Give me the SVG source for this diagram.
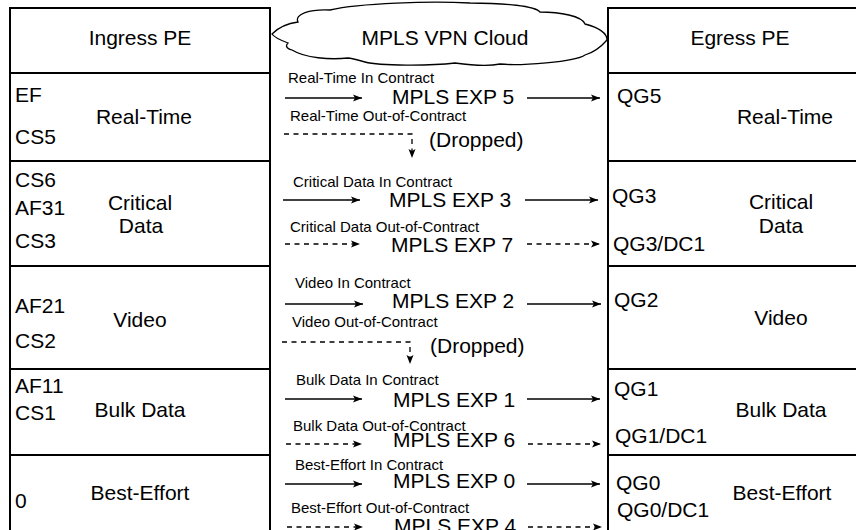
<svg xmlns="http://www.w3.org/2000/svg" width="856" height="530" viewBox="0 0 856 530">
<defs>
<style>
text{font-family:"Liberation Sans",Arial,Helvetica,sans-serif;fill:#000}
.big{font-size:21px}
.sm{font-size:15px}
.mid{text-anchor:middle}
.box{fill:#fff;stroke:#000;stroke-width:2}
.div{stroke:#000;stroke-width:2}
.solid{stroke:#000;stroke-width:1.3;fill:none;marker-end:url(#ah)}
.dash{stroke:#000;stroke-width:1.3;fill:none;stroke-dasharray:5 4.5;marker-end:url(#ah)}
.cloud{fill:#fff;stroke:#000;stroke-width:1.3}
</style>
<marker id="ah" markerUnits="userSpaceOnUse" markerWidth="10" markerHeight="8" refX="9" refY="4" orient="auto">
<path d="M0,0.5 L9,4 L0,7.5 L2,4 Z" fill="#000"/>
</marker>
</defs>
<rect width="856" height="530" fill="#fff"/>

<g id="ingress">
<rect class="box" x="10" y="8" width="260" height="540"/>
<line class="div" x1="10" y1="73" x2="270" y2="73"/>
<line class="div" x1="10" y1="161" x2="270" y2="161"/>
<line class="div" x1="10" y1="266" x2="270" y2="266"/>
<line class="div" x1="10" y1="369" x2="270" y2="369"/>
<line class="div" x1="10" y1="455" x2="270" y2="455"/>
<text class="big mid" x="140" y="45">Ingress PE</text>
<text class="big" x="15" y="102">EF</text>
<text class="big" x="15" y="144">CS5</text>
<text class="big mid" x="144" y="124">Real-Time</text>
<text class="big" x="15" y="187">CS6</text>
<text class="big" x="15" y="215">AF31</text>
<text class="big" x="15" y="248">CS3</text>
<text class="big mid" x="140" y="210">Critical</text>
<text class="big mid" x="141" y="233">Data</text>
<text class="big" x="15" y="313">AF21</text>
<text class="big" x="15" y="348">CS2</text>
<text class="big mid" x="140" y="327">Video</text>
<text class="big" x="15" y="393">AF11</text>
<text class="big" x="15" y="420">CS1</text>
<text class="big mid" x="140" y="417">Bulk Data</text>
<text class="big" x="15" y="508">0</text>
<text class="big mid" x="140" y="500">Best-Effort</text>
</g>

<g id="egress">
<rect class="box" x="608" y="8" width="262" height="540"/>
<line class="div" x1="608" y1="73" x2="870" y2="73"/>
<line class="div" x1="608" y1="161" x2="870" y2="161"/>
<line class="div" x1="608" y1="266" x2="870" y2="266"/>
<line class="div" x1="608" y1="369" x2="870" y2="369"/>
<line class="div" x1="608" y1="455" x2="870" y2="455"/>
<text class="big mid" x="740" y="45">Egress PE</text>
<text class="big" x="617" y="103">QG5</text>
<text class="big mid" x="785" y="124">Real-Time</text>
<text class="big" x="612" y="203">QG3</text>
<text class="big" x="613" y="251">QG3/DC1</text>
<text class="big mid" x="781" y="209">Critical</text>
<text class="big mid" x="781" y="233">Data</text>
<text class="big" x="614" y="307">QG2</text>
<text class="big mid" x="781" y="325">Video</text>
<text class="big" x="614" y="396">QG1</text>
<text class="big" x="615" y="443">QG1/DC1</text>
<text class="big mid" x="781" y="417">Bulk Data</text>
<text class="big" x="616" y="490">QG0</text>
<text class="big" x="617" y="517">QG0/DC1</text>
<text class="big mid" x="782" y="500">Best-Effort</text>
</g>

<g id="cloud">
<path class="cloud" d="M272,34 C280,26 290,23 298,22 C294,14 310,9 330,10 C360,3 430,1 470,3 C505,3 535,6 540,12 C560,12 582,16 585,24 C600,28 607,34 607,40 C600,48 592,53 585,55 C575,62 520,66 500,64 C490,66 470,65 455,63 C430,66 380,66 365,62 C358,60 350,58 348,58 C330,60 305,58 292,50 C285,48 286,45 288,43 C280,40 274,37 272,34 Z"/>
<text class="big mid" x="445" y="45">MPLS VPN Cloud</text>
</g>

<g id="labels">
<text class="sm" x="288" y="83">Real-Time In Contract</text>
<text class="big" x="392" y="104">MPLS EXP 5</text>
<text class="sm" x="290" y="121">Real-Time Out-of-Contract</text>
<text class="big" x="429" y="147">(Dropped)</text>
<text class="sm" x="293" y="187">Critical Data In Contract</text>
<text class="big" x="389" y="207">MPLS EXP 3</text>
<text class="sm" x="290" y="232">Critical Data Out-of-Contract</text>
<text class="big" x="391" y="252">MPLS EXP 7</text>
<text class="sm" x="295" y="288">Video In Contract</text>
<text class="big" x="392" y="308">MPLS EXP 2</text>
<text class="sm" x="292" y="327">Video Out-of-Contract</text>
<text class="big" x="430" y="353">(Dropped)</text>
<text class="sm" x="296" y="385">Bulk Data In Contract</text>
<text class="big" x="393" y="407">MPLS EXP 1</text>
<text class="sm" x="293" y="431">Bulk Data Out-of-Contract</text>
<text class="big" x="393" y="447">MPLS EXP 6</text>
<text class="sm" x="295" y="470">Best-Effort In Contract</text>
<text class="big" x="393" y="488">MPLS EXP 0</text>
<text class="sm" x="291" y="513">Best-Effort Out-of-Contract</text>
<text class="big" x="394" y="533">MPLS EXP 4</text>
</g>

<g id="connectors">
<line class="solid" x1="285" y1="98" x2="362" y2="98"/>
<line class="solid" x1="527" y1="98" x2="600" y2="98"/>
<path class="dash" d="M284,134 H412 V158"/>
<line class="solid" x1="283" y1="200" x2="360" y2="200"/>
<line class="solid" x1="525" y1="200" x2="598" y2="200"/>
<line class="dash" x1="285" y1="244" x2="360" y2="244"/>
<line class="dash" x1="527" y1="244" x2="600" y2="244"/>
<line class="solid" x1="285" y1="304" x2="363" y2="304"/>
<line class="solid" x1="527" y1="304" x2="601" y2="304"/>
<path class="dash" d="M282,342 H410 V364"/>
<line class="solid" x1="285" y1="399" x2="362" y2="399"/>
<line class="solid" x1="527" y1="399" x2="600" y2="399"/>
<line class="dash" x1="286" y1="444" x2="362" y2="444"/>
<line class="dash" x1="528" y1="444" x2="601" y2="444"/>
<line class="solid" x1="285" y1="484" x2="362" y2="484"/>
<line class="solid" x1="527" y1="484" x2="600" y2="484"/>
<line class="dash" x1="287" y1="527" x2="363" y2="527"/>
<line class="dash" x1="528" y1="527" x2="602" y2="527"/>
</g>
</svg>
